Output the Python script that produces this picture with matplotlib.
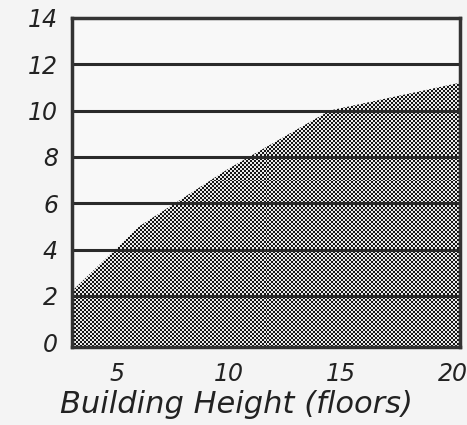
import numpy as np
import matplotlib
matplotlib.use("Agg")
import matplotlib.pyplot as plt

# ── data ────────────────────────────────────────────────────────────────────
floors   = [3.0, 6.0, 10.0, 14.5, 20.3]
values   = [2.2, 5.0, 7.5, 10.0, 11.2]
x_ticks  = [5, 10, 15, 20]
y_ticks  = [0, 2, 4, 6, 8, 10, 12, 14]
x_label  = "Building Height (floors)"

XMIN, XMAX = 3.0, 20.3
YMIN, YMAX = -0.2, 14

fig = plt.figure(figsize=(4.67, 4.25), dpi=100, facecolor="#f4f4f4")
ax = fig.add_axes([0.154, 0.184, 0.831, 0.774])
ax.set_facecolor("#f8f8f8")

# shaded area: stipple texture (checkerboard) clipped to the filled region
poly = ax.fill_between(floors, YMIN, values, facecolor="none",
                       linewidth=0, zorder=1)
ny, nx = 165, 195
ii, jj = np.indices((ny, nx))
checker = ((ii + jj) % 2).astype(float)
img = ax.imshow(checker, cmap="gray", vmin=-0.1, vmax=1.1,
                extent=[XMIN, XMAX, YMIN, YMAX], aspect="auto",
                interpolation="nearest", zorder=1)
img.set_clip_path(poly.get_paths()[0], transform=ax.transData)

for y in y_ticks[1:-1]:
    ax.axhline(y, color="#2a2a2a", linewidth=2.2, zorder=2)

ax.set_xlim(XMIN, XMAX)
ax.set_ylim(YMIN, YMAX)
ax.set_xticks(x_ticks)
ax.set_yticks(y_ticks)
ax.tick_params(length=0, labelsize=17, colors="#222222")
ax.tick_params(axis="x", pad=11)
ax.tick_params(axis="y", pad=10)
for lab in ax.get_xticklabels() + ax.get_yticklabels():
    lab.set_style("italic")
ax.set_xlabel(x_label, fontsize=22, style="italic", color="#222222")
ax.xaxis.set_label_coords(0.425, -0.13)

for s in ax.spines.values():
    s.set_linewidth(2.5)
    s.set_color("#333333")
    s.set_zorder(3)

fig.savefig("out.png", dpi=100, facecolor=fig.get_facecolor())
